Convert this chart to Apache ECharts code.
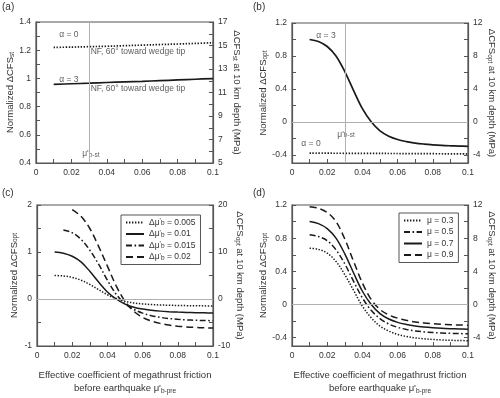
<!DOCTYPE html>
<html><head><meta charset="utf-8">
<script src="https://cdn.jsdelivr.net/npm/echarts@6/dist/echarts.min.js"></script>
<style>html,body{margin:0;padding:0;background:#fff}#c{width:500px;height:398px}</style>
</head><body><div id="c"></div>
<script>
// ---------- data ----------
const xTickVals = [0,0.01,0.02,0.03,0.04,0.05,0.06,0.07,0.08,0.09,0.1];
const xLabelVals = [0,0.02,0.04,0.06,0.08,0.1];

const aLeftTicks = [0.4,0.5,0.6,0.7,0.8,0.9,1,1.1,1.2,1.3,1.4];
const aLeftLabels = [0.4,0.6,0.8,1,1.2,1.4];
const aRightTicks = [5,6,7,8,9,10,11,12,13,14,15,16,17];
const aRightLabels = [5,7,9,11,13,15,17];

const bLeftTicks = [-0.4,-0.2,0,0.2,0.4,0.6,0.8,1,1.2];
const bLeftLabels = [-0.4,0,0.4,0.8,1.2];
const bRightTicks = [-4,-2,0,2,4,6,8,10,12];
const bRightLabels = [-4,0,4,8,12];

const cLeftTicks = [-1,-0.5,0,0.5,1,1.5,2];
const cLeftLabels = [-1,0,1,2];
const cRightTicks = [-10,-5,0,5,10,15,20];
const cRightLabels = [-10,0,10,20];

const muBst = 0.029;

// panel (a)
const xA = [0.01,0.02,0.03,0.04,0.05,0.06,0.07,0.08,0.09,0.1];
const aAlpha0 = [1.22,1.222,1.225,1.228,1.232,1.236,1.24,1.244,1.248,1.253];
const aAlpha3 = [0.958,0.962,0.966,0.971,0.975,0.979,0.984,0.989,0.994,0.999];

// shared x grid for curves
const xS = [0.01,0.015,0.02,0.025,0.03,0.035,0.04,0.045,0.05,0.055,0.06,0.065,0.07,0.075,0.08,0.085,0.09,0.095,0.1];

// panel (b)
const xB0 = [0.01,0.04,0.07,0.1];
const bAlpha0 = [-0.38,-0.383,-0.386,-0.39];
const bAlpha3 = [1.0,0.975,0.915,0.8,0.61,0.38,0.16,0.0,-0.11,-0.175,-0.215,-0.24,-0.258,-0.27,-0.279,-0.286,-0.291,-0.295,-0.298];

// panel (c)
const xC005 = xS, xC010 = xS;
const xC015 = [0.015,0.02,0.025,0.03,0.035,0.04,0.045,0.05,0.055,0.06,0.065,0.07,0.075,0.08,0.085,0.09,0.095,0.1];
const xC020 = [0.02,0.025,0.03,0.035,0.04,0.045,0.05,0.055,0.06,0.065,0.07,0.075,0.08,0.085,0.09,0.095,0.1];
const cD005 = [0.5,0.49,0.46,0.4,0.31,0.2,0.09,0.01,-0.05,-0.085,-0.105,-0.118,-0.127,-0.133,-0.138,-0.141,-0.144,-0.146,-0.148];
const cD010 = [1.0,0.975,0.91,0.79,0.59,0.36,0.15,0.0,-0.11,-0.175,-0.215,-0.24,-0.258,-0.27,-0.279,-0.286,-0.291,-0.295,-0.3];
const cD015 = [1.47,1.41,1.27,1.04,0.74,0.4,0.1,-0.1,-0.22,-0.3,-0.355,-0.39,-0.415,-0.432,-0.444,-0.452,-0.458,-0.462];
const cD020 = [1.9,1.76,1.5,1.12,0.7,0.28,-0.05,-0.26,-0.39,-0.47,-0.52,-0.555,-0.578,-0.594,-0.605,-0.613,-0.618];

// panel (d)
const dMu03 = [0.68,0.665,0.62,0.52,0.36,0.17,-0.02,-0.16,-0.26,-0.32,-0.36,-0.385,-0.402,-0.413,-0.421,-0.427,-0.431,-0.434,-0.436];
const dMu05 = [0.84,0.82,0.77,0.66,0.49,0.28,0.08,-0.07,-0.17,-0.235,-0.275,-0.3,-0.318,-0.33,-0.338,-0.343,-0.347,-0.35,-0.352];
const dMu07 = [1.0,0.975,0.915,0.8,0.61,0.38,0.16,0.0,-0.11,-0.175,-0.215,-0.24,-0.258,-0.27,-0.279,-0.286,-0.291,-0.295,-0.298];
const dMu09 = [1.18,1.16,1.11,1.0,0.79,0.52,0.26,0.06,-0.06,-0.125,-0.165,-0.19,-0.21,-0.222,-0.231,-0.238,-0.243,-0.247,-0.25];

const cNames = ['0.005','0.01','0.015','0.02'];
const dNames = ['0.3','0.5','0.7','0.9'];

// ---------- styling ----------
const FONT = "'Liberation Sans', Arial, sans-serif";
const AX = '#555', TXT = '#333', LINE = '#1a1a1a';
const DOT = [1.4,1.6], DASHDOT = [6,2.5,1.6,2.5], DASH = [7,4];
const subRich = {
  s: {fontSize: 6.5, verticalAlign: 'bottom', lineHeight: 7, fontFamily: FONT, color: TXT},
  p: {fontSize: 7, verticalAlign: 'top', lineHeight: 7, fontFamily: FONT, color: TXT}
};
const zip = (xs, ys) => xs.map((x, i) => [x, ys[i]]);

const grids = [
  {left: 36, top: 22, width: 177, height: 141},
  {left: 292, top: 23, width: 176, height: 140},
  {left: 37, top: 205, width: 176, height: 141},
  {left: 292, top: 205, width: 176, height: 141}
].map(g => Object.assign({show: true, borderColor: AX, borderWidth: 1.2, backgroundColor: 'transparent'}, g));

function xAxis(gi, withName) {
  const o = {
    type: 'value', gridIndex: gi, min: 0, max: 0.1,
    axisLine: {show: true, onZero: false, lineStyle: {color: AX, width: 1.2}},
    axisTick: {show: true, inside: true, length: 4, customValues: xTickVals, lineStyle: {color: AX}},
    axisLabel: {customValues: xLabelVals, fontSize: 8.5, color: TXT, margin: 5, fontFamily: FONT},
    splitLine: {show: false}
  };
  if (withName) {
    o.name = 'Effective coefficient of megathrust friction\nbefore earthquake μ\'{s|b-pre}';
    o.nameLocation = 'middle';
    o.nameGap = 23;
    o.nameTextStyle = {fontSize: 9.5, color: TXT, fontFamily: FONT, lineHeight: 13, rich: subRich};
  }
  return o;
}
function yAxis(gi, side, min, max, ticks, labels, name, gap) {
  return {
    type: 'value', gridIndex: gi, position: side, min: min, max: max,
    axisLine: {show: true, onZero: false, lineStyle: {color: AX, width: 1.2}},
    axisTick: {show: true, inside: true, length: 4, customValues: ticks, lineStyle: {color: AX}},
    axisLabel: {customValues: labels, fontSize: 8.5, color: TXT, margin: 5, fontFamily: FONT},
    splitLine: {show: false},
    name: name, nameLocation: 'middle', nameGap: gap, nameRotate: side === 'right' ? -90 : 90,
    nameTextStyle: {fontSize: 9.5, color: TXT, fontFamily: FONT, rich: subRich}
  };
}

const xAxes = [xAxis(0, false), xAxis(1, false), xAxis(2, true), xAxis(3, true)];
const yAxes = [
  yAxis(0, 'left', 0.4, 1.4, aLeftTicks, aLeftLabels, 'Normalized ΔCFS{s|st}', 18),
  yAxis(0, 'right', 5, 17, aRightTicks, aRightLabels, 'ΔCFS{s|st} at 10 km depth (MPa)', 17),
  yAxis(1, 'left', -0.5, 1.2, bLeftTicks, bLeftLabels, 'Normalized ΔCFS{s|opt}', 22),
  yAxis(1, 'right', -5, 12, bRightTicks, bRightLabels, 'ΔCFS{s|opt} at 10 km depth (MPa)', 18),
  yAxis(2, 'left', -1, 2, cLeftTicks, cLeftLabels, 'Normalized ΔCFS{s|opt}', 18),
  yAxis(2, 'right', -10, 20, cRightTicks, cRightLabels, 'ΔCFS{s|opt} at 10 km depth (MPa)', 18),
  yAxis(3, 'left', -0.5, 1.2, bLeftTicks, bLeftLabels, 'Normalized ΔCFS{s|opt}', 22),
  yAxis(3, 'right', -5, 12, bRightTicks, bRightLabels, 'ΔCFS{s|opt} at 10 km depth (MPa)', 18)
];

function line(name, xi, yi, data, dash, width) {
  return {
    type: 'line', name: name, xAxisIndex: xi, yAxisIndex: yi, data: data,
    symbol: 'none', showSymbol: false, smooth: 0.35, silent: true,
    lineStyle: {color: LINE, width: width || 1.5, type: dash || 'solid'},
    itemStyle: {color: LINE}
  };
}
function vline(xi, yi) {
  return {
    type: 'line', xAxisIndex: xi, yAxisIndex: yi, data: [], silent: true,
    markLine: {symbol: 'none', silent: true, label: {show: false}, animation: false,
      lineStyle: {color: '#b0b0b0', width: 1, type: 'solid'},
      data: [{xAxis: muBst}]}
  };
}
function zeroLine(xi, yi) {
  return {
    type: 'line', xAxisIndex: xi, yAxisIndex: yi, data: [], silent: true,
    markLine: {symbol: 'none', silent: true, label: {show: false}, animation: false,
      lineStyle: {color: '#b0b0b0', width: 1, type: 'solid'},
      data: [{yAxis: 0}]}
  };
}
function notes(xi, yi, items, fs) {
  return {
    type: 'scatter', xAxisIndex: xi, yAxisIndex: yi, symbolSize: 0, silent: true,
    data: items.map(t => ({value: [t[0], t[1]], label: {formatter: t[2]}})),
    label: {show: true, position: 'inside', fontSize: fs || 8.5, color: TXT, fontFamily: FONT, rich: subRich}
  };
}

const series = [
  vline(0, 0),
  line('a0', 0, 0, zip(xA, aAlpha0), DOT, 1.7),
  line('a3', 0, 0, zip(xA, aAlpha3), 'solid', 1.7),
  notes(0, 0, [
    [0.0186, 1.31, 'α = 0'],
    [0.0576, 1.187, 'NF, 60° toward wedge tip'],
    [0.0186, 0.99, 'α = 3'],
    [0.0576, 0.925, 'NF, 60° toward wedge tip'],
    [0.031, 0.465, 'μ\'{s|b-st}']
  ]),
  vline(1, 2), zeroLine(1, 2),
  line('b3', 1, 2, zip(xS, bAlpha3), 'solid', 1.7),
  line('b0', 1, 2, zip(xB0, bAlpha0), DOT, 1.7),
  notes(1, 2, [
    [0.0193, 1.05, 'α = 3'],
    [0.0108, -0.27, 'α = 0'],
    [0.0307, -0.15, 'μ\'{s|b-st}']
  ]),
  zeroLine(2, 4),
  line('Δμ\'b = ' + cNames[0], 2, 4, zip(xC005, cD005), DOT),
  line('Δμ\'b = ' + cNames[1], 2, 4, zip(xC010, cD010), 'solid'),
  line('Δμ\'b = ' + cNames[2], 2, 4, zip(xC015, cD015), DASHDOT),
  line('Δμ\'b = ' + cNames[3], 2, 4, zip(xC020, cD020), DASH),
  zeroLine(3, 6),
  line('μ = ' + dNames[0], 3, 6, zip(xS, dMu03), DOT),
  line('μ = ' + dNames[1], 3, 6, zip(xS, dMu05), DASHDOT),
  line('μ = ' + dNames[2], 3, 6, zip(xS, dMu07), 'solid'),
  line('μ = ' + dNames[3], 3, 6, zip(xS, dMu09), DASH)
];

const legendBase = {
  orient: 'vertical', itemWidth: 18, itemHeight: 8, itemGap: 2.5,
  padding: [3, 5, 3, 4], borderColor: AX, borderWidth: 1, backgroundColor: '#fff',
  selectedMode: false,
  itemStyle: {opacity: 0},
  textStyle: {fontSize: 8.5, color: TXT, fontFamily: FONT, rich: subRich}
};
const legends = [
  Object.assign({}, legendBase, {
    left: 121, top: 215,
    data: cNames.map(n => 'Δμ\'b = ' + n),
    formatter: n => 'Δμ{p|\'}{s|b} = ' + n.split('= ')[1]
  }),
  Object.assign({}, legendBase, {
    left: 399, top: 213,
    data: dNames.map(n => 'μ = ' + n)
  })
];

const panelLabels = [['(a)', 2, 2], ['(b)', 253, 2], ['(c)', 2, 188], ['(d)', 253, 188]];

const chart = echarts.init(document.getElementById('c'), null, {renderer: 'canvas'});
chart.setOption({
  animation: false,
  backgroundColor: '#fff',
  textStyle: {fontFamily: FONT},
  grid: grids,
  xAxis: xAxes,
  yAxis: yAxes,
  legend: legends,
  series: series,
  graphic: panelLabels.map(p => ({
    type: 'text', left: p[1], top: p[2],
    style: {text: p[0], fontSize: 10, fill: TXT, fontFamily: FONT}
  }))
});
</script>
</body></html>
